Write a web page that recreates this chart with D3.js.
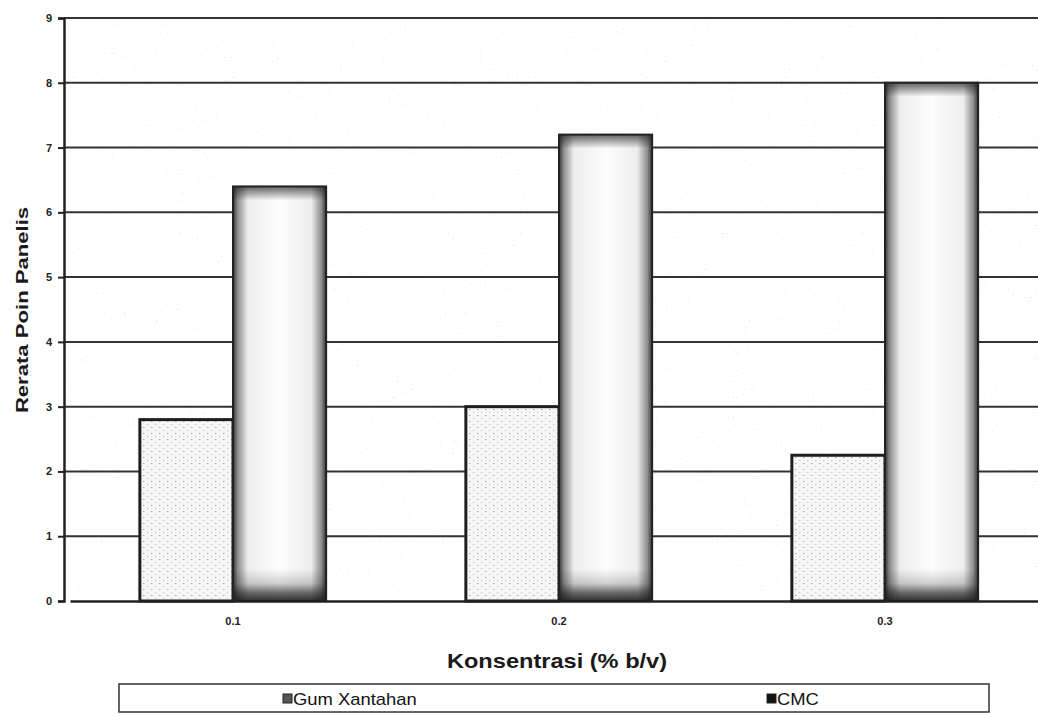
<!DOCTYPE html>
<html>
<head>
<meta charset="utf-8">
<script src="https://cdn.jsdelivr.net/npm/d3@7"></script>
<style>
  html, body { margin: 0; padding: 0; background: #fff; }
  svg { display: block; font-family: "Liberation Sans", Arial, sans-serif; }
</style>
</head>
<body>
<svg id="chart" width="1038" height="716"></svg>
<script>
// Data
const categories = ["0.1", "0.2", "0.3"];
const seriesNames = ["Gum Xantahan", "CMC"];
const gumXantahan = [2.8, 3.0, 2.25];
const cmc = [6.4, 7.2, 8.0];
const yTicks = [0, 1, 2, 3, 4, 5, 6, 7, 8, 9];

const rows = categories.map((c, i) => ({ cat: c, values: [gumXantahan[i], cmc[i]] }));

const plot = { left: 64, right: 1060, top: 18, bottom: 601 };

const svg = d3.select("#chart");
const defs = svg.append("defs");

// Sparse speckle texture for the plot background
const noise = defs.append("filter").attr("id", "speckle")
  .attr("x", 0).attr("y", 0).attr("width", "100%").attr("height", "100%");
noise.append("feTurbulence").attr("type", "fractalNoise")
  .attr("baseFrequency", 0.75).attr("numOctaves", 1).attr("seed", 11).attr("result", "n");
noise.append("feColorMatrix").attr("in", "n").attr("type", "matrix")
  .attr("values", "0 0 0 0 0.4  0 0 0 0 0.4  0 0 0 0 0.4  -30 0 0 0 8.1");

// Stippled fill for Gum Xantahan bars
const dots = defs.append("pattern").attr("id", "stipple")
  .attr("width", 8).attr("height", 6).attr("patternUnits", "userSpaceOnUse");
dots.append("rect").attr("width", 8).attr("height", 6).attr("fill", "#f6f6f6");
dots.append("rect").attr("x", 1).attr("y", 1).attr("width", 1.4).attr("height", 1).attr("fill", "#a8a8a8");
dots.append("rect").attr("x", 5).attr("y", 4).attr("width", 1.2).attr("height", 1).attr("fill", "#c4c4c4");

// Shaded fill for CMC bars: dark at the side edges
const gH = defs.append("linearGradient").attr("id", "cmcSides")
  .attr("x1", "0%").attr("x2", "100%").attr("y1", "0%").attr("y2", "0%");
[["0%", "#333"], ["5%", "#8c8c8c"], ["16%", "#eeeeee"], ["50%", "#fdfdfd"],
 ["84%", "#eeeeee"], ["95%", "#8c8c8c"], ["100%", "#333"]]
  .forEach(([o, c]) => gH.append("stop").attr("offset", o).attr("stop-color", c));

const gBottom = defs.append("linearGradient").attr("id", "cmcBottom")
  .attr("x1", "0%").attr("x2", "0%").attr("y1", "0%").attr("y2", "100%");
[["0%", 0], ["45%", 0.2], ["75%", 0.65], ["100%", 0.9]]
  .forEach(([o, a]) => gBottom.append("stop").attr("offset", o)
    .attr("stop-color", "#1a1a1a").attr("stop-opacity", a));

const gTop = defs.append("linearGradient").attr("id", "cmcTop")
  .attr("x1", "0%").attr("x2", "0%").attr("y1", "0%").attr("y2", "100%");
[["0%", 0.7], ["100%", 0]]
  .forEach(([o, a]) => gTop.append("stop").attr("offset", o)
    .attr("stop-color", "#222").attr("stop-opacity", a));

// Scales
const x0 = d3.scaleBand().domain(categories).range([70, 1048]).padding(0);
const x1 = d3.scaleBand().domain(seriesNames).range([0, x0.bandwidth()])
  .paddingInner(0).paddingOuter(0.75);
const y = d3.scaleLinear().domain([0, 9]).range([plot.bottom, plot.top]);

// Plot background with speckles
svg.append("rect")
  .attr("x", plot.left).attr("y", plot.top)
  .attr("width", plot.right - plot.left).attr("height", plot.bottom - plot.top)
  .attr("fill", "#fff");
svg.append("rect")
  .attr("x", plot.left).attr("y", plot.top)
  .attr("width", plot.right - plot.left).attr("height", plot.bottom - plot.top)
  .attr("filter", "url(#speckle)").attr("opacity", 0.28);

// Gridlines
svg.append("g").selectAll("line")
  .data(yTicks.filter(t => t > 0))
  .join("line")
  .attr("x1", plot.left).attr("x2", plot.right)
  .attr("y1", d => y(d)).attr("y2", d => y(d))
  .attr("stroke", "#333").attr("stroke-width", 2);

// Bars
const groups = svg.append("g").selectAll("g")
  .data(rows).join("g")
  .attr("transform", d => `translate(${x0(d.cat)},0)`);

const bars = groups.selectAll("g.bar")
  .data(d => d.values.map((v, i) => ({ series: seriesNames[i], value: v })))
  .join("g").attr("class", "bar");

bars.filter(d => d.series === "Gum Xantahan")
  .append("rect")
  .attr("x", d => x1(d.series)).attr("y", d => y(d.value))
  .attr("width", x1.bandwidth()).attr("height", d => y(0) - y(d.value))
  .attr("fill", "url(#stipple)")
  .attr("stroke", "#1e1e1e").attr("stroke-width", 3);

const cmcBars = bars.filter(d => d.series === "CMC");
cmcBars.append("rect")
  .attr("x", d => x1(d.series)).attr("y", d => y(d.value))
  .attr("width", x1.bandwidth()).attr("height", d => y(0) - y(d.value))
  .attr("fill", "url(#cmcSides)");
cmcBars.append("rect")
  .attr("x", d => x1(d.series)).attr("y", d => y(d.value))
  .attr("width", x1.bandwidth()).attr("height", 14)
  .attr("fill", "url(#cmcTop)");
cmcBars.append("rect")
  .attr("x", d => x1(d.series)).attr("y", y(0) - 32)
  .attr("width", x1.bandwidth()).attr("height", 32)
  .attr("fill", "url(#cmcBottom)");
cmcBars.append("rect")
  .attr("x", d => x1(d.series)).attr("y", d => y(d.value))
  .attr("width", x1.bandwidth()).attr("height", d => y(0) - y(d.value))
  .attr("fill", "none")
  .attr("stroke", "#222").attr("stroke-width", 2);

// Y axis
const yAxis = svg.append("g")
  .attr("transform", `translate(${plot.left},0)`)
  .call(d3.axisLeft(y).tickValues(yTicks).tickFormat(d3.format("d")).tickSize(6).tickPadding(6));
yAxis.select(".domain").attr("stroke", "#222").attr("stroke-width", 2.5);
yAxis.selectAll(".tick line").attr("stroke", "#222").attr("stroke-width", 2);
yAxis.selectAll(".tick text")
  .attr("font-size", 11).attr("font-weight", "bold").attr("fill", "#222")
  .attr("font-family", "Liberation Sans, Arial, sans-serif");

// X axis
const xAxis = svg.append("g")
  .attr("transform", `translate(0,${plot.bottom})`)
  .call(d3.axisBottom(x0).tickSize(0).tickPadding(16));
xAxis.select(".domain").attr("stroke", "#222").attr("stroke-width", 2.5);
xAxis.selectAll(".tick text")
  .attr("font-size", 11).attr("font-weight", "bold").attr("fill", "#222")
  .attr("font-family", "Liberation Sans, Arial, sans-serif");

// Axis titles
svg.append("text")
  .attr("transform", `translate(28,310) rotate(-90) scale(1.3,1)`)
  .attr("text-anchor", "middle")
  .attr("font-size", 17).attr("font-weight", "bold").attr("fill", "#1a1a1a")
  .text("Rerata Poin Panelis");

svg.append("text")
  .attr("transform", "translate(557,668) scale(1.18,1)")
  .attr("text-anchor", "middle")
  .attr("font-size", 20).attr("font-weight", "bold").attr("fill", "#1a1a1a")
  .text("Konsentrasi (% b/v)");

// Legend
const legend = svg.append("g");
legend.append("rect")
  .attr("x", 119).attr("y", 684).attr("width", 870).attr("height", 28)
  .attr("fill", "#fff").attr("stroke", "#333").attr("stroke-width", 1.5);

const legendX = [283, 767];
const legendItems = legend.selectAll("g.item")
  .data(seriesNames).join("g").attr("class", "item")
  .attr("transform", (d, i) => `translate(${legendX[i]},699)`);
legendItems.append("rect")
  .attr("x", 0).attr("y", -5).attr("width", 9).attr("height", 9)
  .attr("fill", (d, i) => i === 0 ? "#555" : "#111")
  .attr("stroke", "#222").attr("stroke-width", 1);
legendItems.append("text")
  .attr("transform", "translate(10,6) scale(1.15,1)")
  .attr("font-size", 16).attr("fill", "#111")
  .text(d => d);
</script>
</body>
</html>
